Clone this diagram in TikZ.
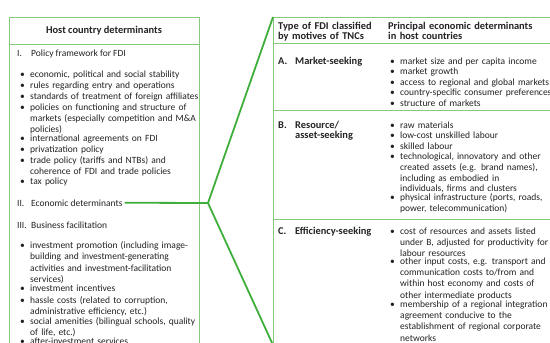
\documentclass[tikz,border=0pt]{standalone}
\usepackage{fontspec}
\setmainfont{Carlito}
\usetikzlibrary{positioning}
\definecolor{boxgreen}{HTML}{86C97A}
\definecolor{linkgreen}{HTML}{3FAE3A}
\definecolor{inkgray}{HTML}{222222}
\newlength{\bulgap}
\setlength{\bulgap}{10pt}
\newcommand{\dotitem}[1]{\noindent\makebox[\bulgap][l]{\textbullet}\parbox[t]{200pt}{#1}\par}
\newcommand{\numitem}[2][14pt]{\makebox[#1][l]{#2}}
\tikzset{
  frame/.style={draw=boxgreen,line width=0.9pt},
  link/.style={draw=linkgreen,line width=1.8pt,line join=round},
  ink/.style={anchor=base west,inner sep=0pt,text=inkgray,font=\fontsize{9.5}{10.6}\selectfont},
  txt/.style={ink,text width=#1},
  txt/.default=220pt,
  loose/.style={txt,font=\fontsize{9.5}{#1}\selectfont},
  loose/.default=11.1pt,
  hd/.style={txt=#1,font=\fontsize{10.4}{10.8}\selectfont\bfseries},
  hd/.default=160pt,
}

\begin{document}
\begin{tikzpicture}[x=1pt,y=-1pt]
	    \clip (0,0) rectangle (550,343);
	    % host country side
	    \draw[frame] (9,17) rectangle (199,360);
	    \draw[frame] (9,44) -- (199,44);
	    \node[ink,anchor=base,font=\fontsize{10.4}{10.8}\selectfont\bfseries] (hostHd) at (104,33) {Host country determinants};
	    \node[ink] (policy) at (17,56) {\numitem{I.}Policy framework for FDI};
	    \node[loose] (policyList) at (20,77) {%
	      \dotitem{economic, political and social stability}
	      \dotitem{rules regarding entry and operations}
	      \dotitem{standards of treatment of foreign affiliates}
	      \dotitem{policies on functioning and structure of\\markets (especially competition and M\&A\\policies)}
	      \dotitem{international agreements on FDI}
	      \dotitem{privatization policy}
	      \dotitem{trade policy (tariffs and NTBs) and\\coherence of FDI and trade policies}
	      \dotitem{tax policy}};
	    \node[ink] (econ) at (17,206) {\numitem{II.}Economic determinants};
	    \node[ink] (business) at (17,228) {\numitem{III.}Business facilitation};
	    \node[loose=11.6pt] (businessList) at (20,248) {%
	      \dotitem{investment promotion (including image-\\building and investment-generating\\activities and investment-facilitation\\services)}
	      \dotitem{investment incentives}
	      \dotitem{hassle costs (related to corruption,\\administrative efficiency, etc.)}
	      \dotitem{social amenities (bilingual schools, quality\\of life, etc.)}
	      \dotitem{after-investment services}};
	    % FDI type side
	    \coordinate (rTop) at (273,17);
	    \coordinate (rBot) at (273,345);
	    \draw[frame] (rTop) rectangle (600,360);
	    \draw[frame] (273,43) -- (600,43);
	    \draw[frame] (273,110) -- (600,110);
	    \draw[frame] (273,219) -- (600,219);
	    \node[hd] (typeHd) at (278,29) {Type of FDI classified\\by motives of TNCs};
	    \node[hd=180pt] (detHd) at (388,29) {Principal economic determinants\\in host countries};
	    \node[hd] (market) at (278,64) {\numitem[17pt]{A.}Market-seeking};
	    \node[txt] (marketList) at (390,64) {%
	      \dotitem{market size and per capita income}
	      \dotitem{market growth}
	      \dotitem{access to regional and global markets}
	      \dotitem{country-specific consumer preferences}
	      \dotitem{structure of markets}};
	    \node[hd] (resource) at (278,128) {\numitem[17pt]{B.}Resource/\\\hspace*{17pt}asset-seeking};
	    \node[txt] (resourceList) at (390,128) {%
	      \dotitem{raw materials}
	      \dotitem{low-cost unskilled labour}
	      \dotitem{skilled labour}
	      \dotitem{technological, innovatory and other\\created assets (e.g. brand names),\\including as embodied in\\individuals, firms and clusters}
	      \dotitem{physical infrastructure (ports, roads,\\power, telecommunication)}};
	    \node[hd] (efficiency) at (278,234) {\numitem[17pt]{C.}Efficiency-seeking};
	    \node[loose=11.3pt] (efficiencyList) at (390,234) {%
	      \dotitem{cost of resources and assets listed\\under B, adjusted for productivity for\\labour resources}
	      \dotitem{other input costs, e.g. transport and\\communication costs to/from and\\within host economy and costs of\\other intermediate products}
	      \dotitem{membership of a regional integration\\agreement conducive to the\\establishment of regional corporate\\networks}};
	    % link
	    \coordinate (hub) at (208,203);
	    \draw[link] ([xshift=2pt]econ.east) -- (hub) -- (rTop);
	    \draw[link] (hub) -- (rBot);
	\end{tikzpicture}
\end{document}
